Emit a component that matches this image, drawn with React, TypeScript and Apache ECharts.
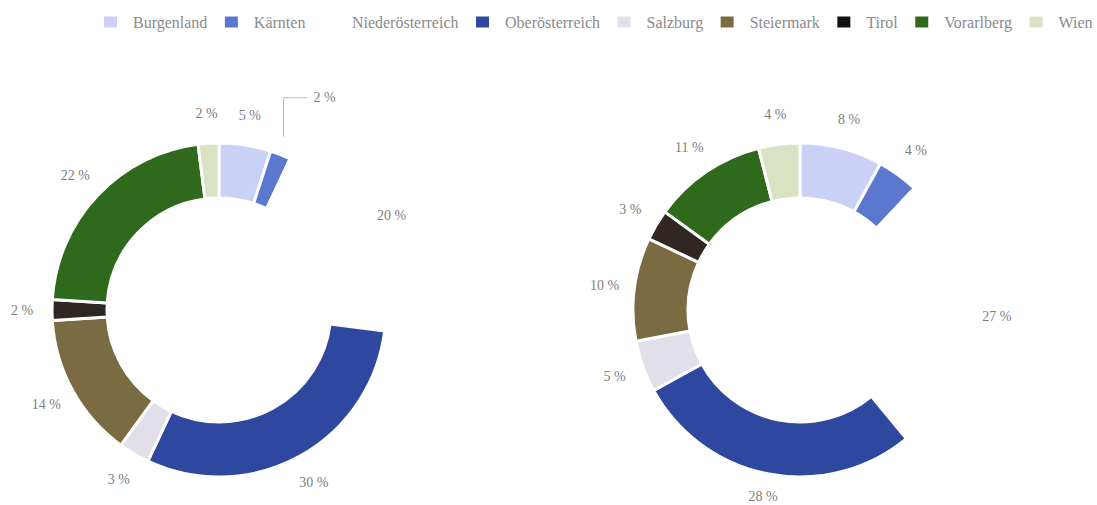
import React, { useEffect, useRef } from "react";
import * as echarts from "echarts";

const categories = [
  "Burgenland",
  "Kärnten",
  "Niederösterreich",
  "Oberösterreich",
  "Salzburg",
  "Steiermark",
  "Tirol",
  "Vorarlberg",
  "Wien",
];
const leftValues = [5, 2, 20, 30, 3, 14, 2, 22, 2];
const rightValues = [8, 4, 27, 28, 5, 10, 3, 11, 4];
const colors = [
  "#c9d1f7",
  "#5b78cf",
  "#ffffff",
  "#2f489f",
  "#e1e0ea",
  "#7a6b43",
  "#302722",
  "#2f6a1c",
  "#d9e2c2",
];
const legendIconColors = [
  "#c9d1f7",
  "#5b78cf",
  "#ffffff",
  "#2f489f",
  "#e1e0ea",
  "#7a6b43",
  "#111111",
  "#2f6a1c",
  "#d9e2c2",
];

const FONT = "'Liberation Serif', 'Times New Roman', serif";
const OUTER_R = 167;
const INNER_R = 112;
const LABEL_R = 197;
const centers: [number, number][] = [
  [219, 310],
  [800, 310],
];
const seriesValues = [leftValues, rightValues];

function midAngle(vals: number[], idx: number) {
  const total = vals.reduce((a, b) => a + b, 0);
  let cum = 0;
  for (let i = 0; i < idx; i++) cum += vals[i];
  const frac = (cum + vals[idx] / 2) / total;
  return Math.PI / 2 - frac * Math.PI * 2;
}

export default function App() {
  const ref = useRef<HTMLDivElement>(null);
  useEffect(() => {
    document.body.style.margin = "0";
    if (!ref.current) return;
    const chart = echarts.init(ref.current, null, { renderer: "svg" });

    const makeData = (vals: number[], withLine: boolean) =>
      vals.map((v, i) => ({
        value: v,
        name: categories[i],
        itemStyle: { color: colors[i] },
        labelLine:
          withLine && i === 1
            ? { show: true, lineStyle: { color: "#bdbdbd", width: 1 } }
            : { show: false },
      }));

    const makeLayout = (sIdx: number) => (params: any) => {
      const vals = seriesValues[sIdx];
      const [cx, cy] = centers[sIdx];
      const a = midAngle(vals, params.dataIndex);
      if (sIdx === 0 && params.dataIndex === 1) {
        const p0x = cx + OUTER_R * Math.cos(a);
        const p0y = cy - OUTER_R * Math.sin(a);
        const x = p0x + 3;
        const yTop = p0y - 57;
        return {
          x: x + 30,
          y: yTop,
          align: "left",
          verticalAlign: "middle",
          labelLinePoints: [
            [x, p0y - 18],
            [x, yTop],
            [x + 24, yTop],
          ],
        };
      }
      return {
        x: cx + LABEL_R * Math.cos(a),
        y: Math.min(cy - LABEL_R * Math.sin(a), 496),
        align: "center",
        verticalAlign: "middle",
      };
    };

    const baseSeries = {
      type: "pie",
      radius: [INNER_R, OUTER_R],
      startAngle: 90,
      clockwise: true,
      avoidLabelOverlap: false,
      itemStyle: { borderColor: "#ffffff", borderWidth: 3 },
      label: {
        show: true,
        position: "outside",
        formatter: (p: any) => `${p.value} %`,
        fontFamily: FONT,
        fontSize: 14,
        color: "#7d7d7d",
      },
      labelLine: { show: false, length: 25, length2: 5 },
      emphasis: { disabled: true },
    };

    chart.setOption({
      animation: false,
      backgroundColor: "#ffffff",
      legend: {
        top: 14,
        left: 102,
        width: 1000,
        padding: 0,
        itemWidth: 15,
        itemHeight: 13,
        itemGap: 15.5,
        icon: "rect",
        selectedMode: false,
        textStyle: {
          fontFamily: FONT,
          fontSize: 16,
          color: "#8a8a8a",
          padding: [0, 0, 0, 10],
        },
        data: categories.map((c, i) => ({
          name: c,
          itemStyle: { color: legendIconColors[i] },
        })),
      },
      series: [
        {
          ...baseSeries,
          center: centers[0],
          data: makeData(leftValues, true),
          labelLayout: makeLayout(0),
        },
        {
          ...baseSeries,
          center: centers[1],
          data: makeData(rightValues, false),
          labelLayout: makeLayout(1),
        },
      ],
    });

    return () => chart.dispose();
  }, []);

  return <div ref={ref} style={{ width: 1097, height: 505 }} />;
}
